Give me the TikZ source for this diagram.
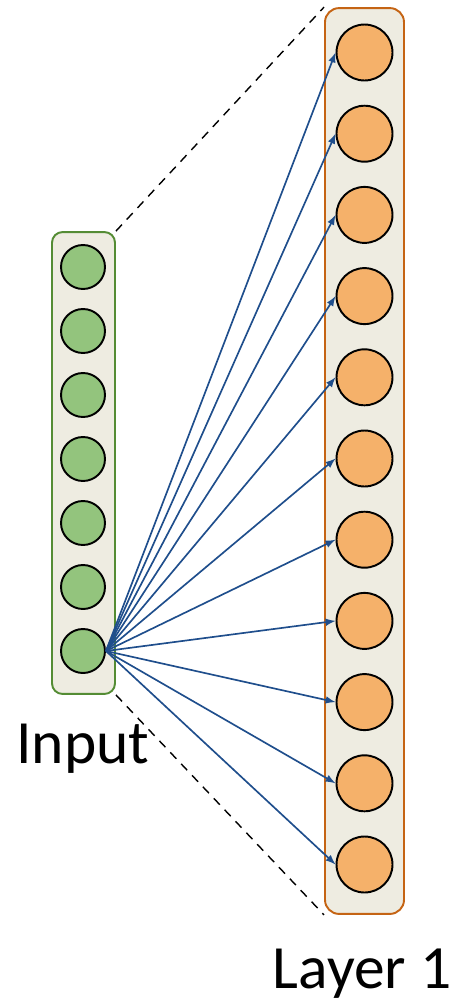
\documentclass[tikz,border=0pt]{standalone}
\usepackage{fontspec}
\setmainfont{Carlito}
\usepackage{xcolor}
\usepackage{tikz}
\usetikzlibrary{arrows, positioning, calc}

\definecolor{layerbg}{RGB}{238,236,225}
\definecolor{ingreen}{RGB}{147,196,125}
\definecolor{inedge}{RGB}{84,140,52}
\definecolor{hidorange}{RGB}{245,177,106}
\definecolor{hidedge}{RGB}{197,100,20}
\definecolor{wblue}{RGB}{31,78,140}

\begin{document}
\begin{tikzpicture}[x=0.02cm, y=-0.02cm, >=latex,
					inbox/.style={rectangle, draw=inedge, line width=1.1pt, rounded corners=6pt, fill=layerbg, minimum width=1.26cm, minimum height=9.24cm},
					hidbox/.style={rectangle, draw=hidedge, line width=1.1pt, rounded corners=8pt, fill=layerbg, minimum width=1.58cm, minimum height=18.12cm},
					inneuron/.style={circle, draw, line width=1.1pt, fill=ingreen, minimum size=0.88cm, inner sep=0pt},
					hidneuron/.style={circle, draw, line width=1.1pt, fill=hidorange, minimum size=1.12cm, inner sep=0pt},
					weight/.style={->, wblue, line width=0.95pt},
					zoomline/.style={dashed, line width=0.8pt, dash pattern=on 5pt off 4pt},
					label/.style={font=\fontsize{35}{40}\selectfont, anchor=base}
				]
					\useasboundingbox (0,0) rectangle (458,1005);
					
					% Layers
					\node[inbox] (inlayer) at (83.5,463) {};
					\node[hidbox] (hidlayer) at (364.5,461) {};
					
					% Zoom lines
					\draw[zoomline] (inlayer.north east) -- (hidlayer.north west);
					\draw[zoomline] (inlayer.south east) -- (hidlayer.south west);
					
					% Neurons
					\foreach \i in {1,...,7}
						\node[inneuron] (in\i) at (83,{267+64*(\i-1)}) {};
					\foreach \j in {1,...,11}
						\node[hidneuron] (h\j) at (364.5,{52.5+81.2*(\j-1)}) {};
					
					% Weights from the last input
					\foreach \j in {1,...,11}
						\draw[weight] (in7.east) -- (h\j.west);
					
					% Labels
					\node[label] (inlabel) at (83,763) {Input};
					\node[label] (hidlabel) at (362,988) {Layer 1};
				\end{tikzpicture}
\end{document}
